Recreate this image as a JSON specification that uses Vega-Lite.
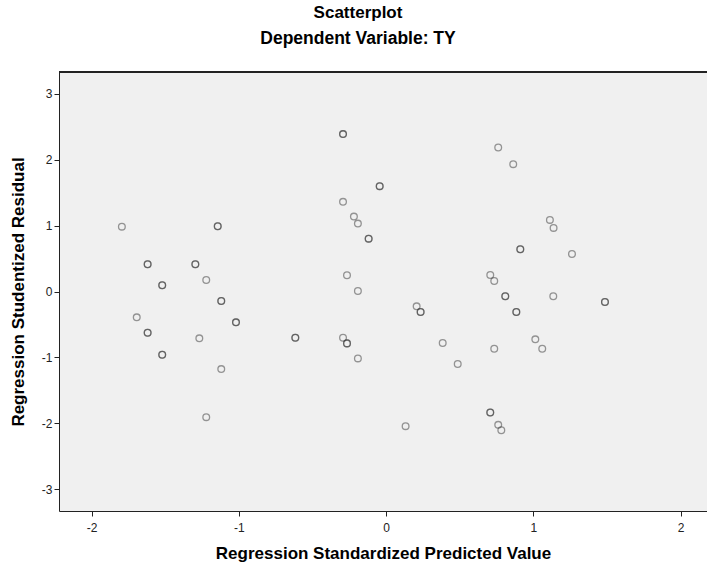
{
  "$schema": "https://vega.github.io/schema/vega-lite/v6.json",
  "autosize": {"type": "none"},
  "padding": {"left": 59, "top": 72, "right": 0, "bottom": 53},
  "width": 648,
  "height": 439,
  "background": "white",
  "title": {
    "text": "Scatterplot",
    "subtitle": "Dependent Variable: TY",
    "anchor": "middle",
    "dx": -25,
    "offset": 23,
    "font": "Liberation Sans",
    "fontSize": 17,
    "fontWeight": "bold",
    "color": "#000",
    "subtitleFont": "Liberation Sans",
    "subtitleFontSize": 17.5,
    "subtitleFontWeight": "bold",
    "subtitleColor": "#000",
    "subtitlePadding": 8
  },
  "config": {
    "view": {"fill": "#f0f0f0", "stroke": null},
    "axis": {
      "labelFont": "Liberation Sans",
      "labelFontSize": 12,
      "labelColor": "#222",
      "labelExpr": "datum.value + ''",
      "titleFont": "Liberation Sans",
      "titleFontSize": 17,
      "titleFontWeight": "bold",
      "titleColor": "#000",
      "domainColor": "#222",
      "tickColor": "#222",
      "tickSize": 5,
      "grid": false
    }
  },
  "data": {
    "values": [
      {"x": -1.795, "y": 0.984},
      {"x": -1.144, "y": 0.990}, {"x": -1.144, "y": 0.990},
      {"x": -1.620, "y": 0.413}, {"x": -1.620, "y": 0.413},
      {"x": -1.296, "y": 0.413}, {"x": -1.296, "y": 0.413},
      {"x": -1.222, "y": 0.175},
      {"x": -1.521, "y": 0.094}, {"x": -1.521, "y": 0.094},
      {"x": -1.120, "y": -0.144}, {"x": -1.120, "y": -0.144},
      {"x": -1.694, "y": -0.392},
      {"x": -1.620, "y": -0.626}, {"x": -1.620, "y": -0.626},
      {"x": -1.269, "y": -0.711},
      {"x": -1.020, "y": -0.468}, {"x": -1.020, "y": -0.468},
      {"x": -0.617, "y": -0.702}, {"x": -0.617, "y": -0.702},
      {"x": -1.521, "y": -0.960}, {"x": -1.521, "y": -0.960},
      {"x": -1.120, "y": -1.177},
      {"x": -1.222, "y": -1.906},
      {"x": -0.293, "y": 2.388}, {"x": -0.293, "y": 2.388},
      {"x": -0.044, "y": 1.598}, {"x": -0.044, "y": 1.598},
      {"x": -0.293, "y": 1.360},
      {"x": -0.219, "y": 1.136},
      {"x": -0.192, "y": 1.030},
      {"x": -0.119, "y": 0.802}, {"x": -0.119, "y": 0.802},
      {"x": -0.266, "y": 0.246},
      {"x": -0.192, "y": 0.008},
      {"x": 0.207, "y": -0.225},
      {"x": 0.234, "y": -0.311}, {"x": 0.234, "y": -0.311},
      {"x": -0.293, "y": -0.702},
      {"x": -0.266, "y": -0.787}, {"x": -0.266, "y": -0.787},
      {"x": -0.192, "y": -1.015},
      {"x": 0.384, "y": -0.782},
      {"x": 0.486, "y": -1.101},
      {"x": 0.132, "y": -2.043},
      {"x": 0.761, "y": 2.184},
      {"x": 0.863, "y": 1.932},
      {"x": 1.112, "y": 1.086},
      {"x": 1.137, "y": 0.965},
      {"x": 0.911, "y": 0.641}, {"x": 0.911, "y": 0.641},
      {"x": 1.262, "y": 0.570},
      {"x": 0.707, "y": 0.251},
      {"x": 0.734, "y": 0.160},
      {"x": 0.809, "y": -0.073}, {"x": 0.809, "y": -0.073},
      {"x": 1.135, "y": -0.073},
      {"x": 1.486, "y": -0.160}, {"x": 1.486, "y": -0.160},
      {"x": 0.884, "y": -0.311}, {"x": 0.884, "y": -0.311},
      {"x": 1.013, "y": -0.726},
      {"x": 1.060, "y": -0.869},
      {"x": 0.734, "y": -0.869},
      {"x": 0.707, "y": -1.835}, {"x": 0.707, "y": -1.835},
      {"x": 0.761, "y": -2.023},
      {"x": 0.782, "y": -2.104}
    ]
  },
  "layer": [
    {
      "mark": {"type": "point", "shape": "circle", "filled": false, "size": 45, "stroke": "#333", "strokeWidth": 1.3, "strokeOpacity": 0.7},
      "encoding": {
        "x": {
          "field": "x", "type": "quantitative",
          "scale": {"domain": [-2.222, 2.179], "nice": false, "zero": false},
          "axis": {"values": [-2, -1, 0, 1, 2], "title": "Regression Standardized Predicted Value", "titlePadding": 12, "labelPadding": 6}
        },
        "y": {
          "field": "y", "type": "quantitative",
          "scale": {"domain": [-3.33, 3.33], "nice": false, "zero": false},
          "axis": {"values": [-3, -2, -1, 0, 1, 2, 3], "title": "Regression Studentized Residual", "titlePadding": 14, "labelPadding": 2}
        }
      }
    },
    {
      "mark": {"type": "rule", "color": "#222", "strokeWidth": 1},
      "encoding": {"y": {"datum": 3.33}}
    }
  ]
}
